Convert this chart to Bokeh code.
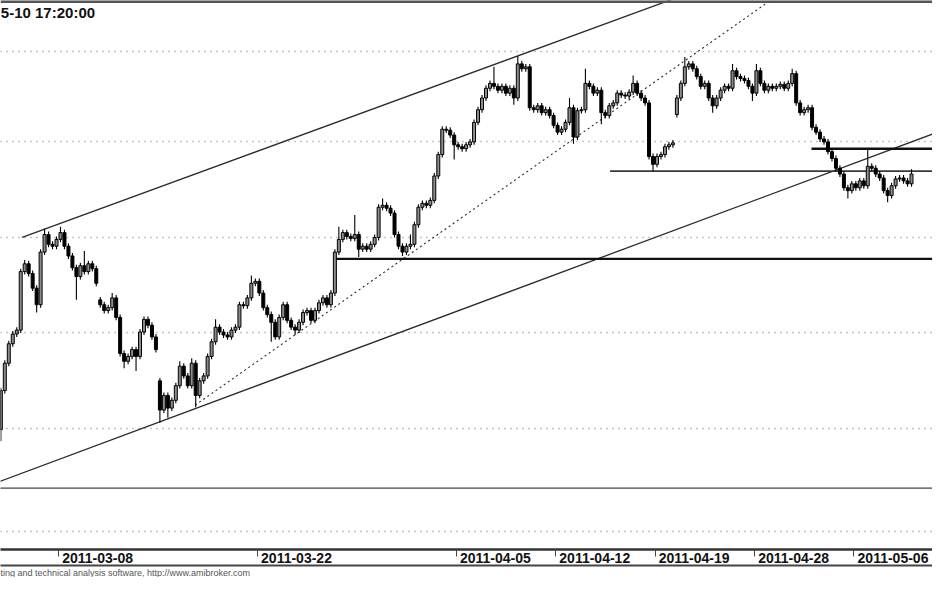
from bokeh.plotting import figure
from bokeh.models import FixedTicker, LinearAxis, Grid, Span, Label, Title, ColumnDataSource
from bokeh.embed import file_html
from bokeh.resources import INLINE

# ---------------- data ----------------
trading_days = [
    "2011-03-03", "2011-03-04", "2011-03-07", "2011-03-08", "2011-03-09", "2011-03-10",
    "2011-03-11", "2011-03-14", "2011-03-15", "2011-03-16", "2011-03-17", "2011-03-18",
    "2011-03-21", "2011-03-22", "2011-03-23", "2011-03-24", "2011-03-25", "2011-03-28",
    "2011-03-29", "2011-03-30", "2011-03-31", "2011-04-01", "2011-04-04", "2011-04-05",
    "2011-04-06", "2011-04-07", "2011-04-08", "2011-04-11", "2011-04-12", "2011-04-13",
    "2011-04-14", "2011-04-15", "2011-04-18", "2011-04-19", "2011-04-20", "2011-04-21",
    "2011-04-26", "2011-04-27", "2011-04-28", "2011-04-29", "2011-05-02", "2011-05-04",
    "2011-05-05", "2011-05-06", "2011-05-09", "2011-05-10",
]
tick_dates = ["2011-03-08", "2011-03-22", "2011-04-05", "2011-04-12",
              "2011-04-19", "2011-04-28", "2011-05-06"]
bars_per_day = 5

closes = [
    2726, 2740, 2750, 2755, 2757,          # 03-03
    2787, 2791, 2786, 2778.5, 2770,        # 03-04
    2797, 2806, 2801, 2800, 2803.5,        # 03-07
    2807, 2800, 2795, 2789, 2784.5,        # 03-08
    2790, 2787, 2791, 2788.5, 2781,        # 03-09
    2770, 2767, 2768.5, 2773.5, 2763.5,    # 03-10
    2745, 2741, 2743.5, 2747, 2743.5,      # 03-11
    2756, 2762.5, 2759.5, 2753.5, 2747,    # 03-14
    2716, 2723.5, 2717, 2721, 2728.5,      # 03-15
    2738.5, 2733.5, 2728.5, 2740, 2723.5,  # 03-16
    2731, 2733.5, 2743.5, 2751, 2758.5,    # 03-17
    2756, 2754.5, 2753.5, 2757, 2758.5,    # 03-18
    2770, 2769.5, 2773.5, 2781, 2782,      # 03-21
    2776, 2768.5, 2765, 2761, 2753.5,      # 03-22
    2763.5, 2770, 2762, 2758.5, 2757,      # 03-23
    2761, 2766, 2767, 2762, 2767,          # 03-24
    2771, 2773.5, 2770, 2776, 2797,        # 03-25
    2803.5, 2807, 2805, 2804, 2806,        # 03-28
    2798.5, 2800, 2798.5, 2801, 2804.5,    # 03-29
    2820, 2821, 2819.5, 2817, 2806,        # 03-30
    2800, 2797, 2800, 2801, 2811,          # 03-31
    2820, 2822, 2821, 2823.5, 2836,        # 04-01
    2847, 2860, 2859.5, 2857, 2852,        # 04-04
    2851, 2850, 2852, 2853.5, 2863.5,      # 04-05
    2870, 2876, 2881, 2883.5, 2882,        # 04-06
    2880, 2882, 2878.5, 2881, 2876,        # 04-07
    2893.5, 2891, 2892, 2871, 2870,        # 04-08
    2872, 2868.5, 2870, 2867, 2862,        # 04-11
    2858.5, 2860, 2863.5, 2871, 2856,      # 04-12
    2869.5, 2870, 2883.5, 2882, 2878.5,    # 04-13
    2880, 2868.5, 2867, 2872, 2873.5,      # 04-14
    2878.5, 2877.5, 2877, 2879, 2883.5,    # 04-15
    2878.5, 2876, 2873.5, 2846, 2842,      # 04-18
    2846, 2847, 2851, 2852, 2853,          # 04-19
    2876, 2883.5, 2892, 2893.5, 2891,      # 04-20
    2887, 2882, 2883.5, 2876, 2872,        # 04-21
    2876, 2880, 2882, 2881, 2890,          # 04-26
    2887, 2886, 2885, 2882, 2878.5,        # 04-27
    2890, 2883.5, 2880, 2882, 2881,        # 04-28
    2882, 2883, 2881, 2883.5, 2888.5,      # 04-29
    2873.5, 2868.5, 2870, 2871, 2861,      # 05-02
    2858.5, 2855, 2853.5, 2848.5, 2845,    # 05-04
    2840, 2837, 2830, 2828.5, 2832,        # 05-05
    2830, 2833.5, 2831, 2841, 2840,        # 05-06
    2837, 2835, 2828.5, 2826, 2831,        # 05-09
    2834.5, 2835, 2833.5, 2832, 2837,      # 05-10
]
# opening gaps (bar index -> open); other bars open at the previous close
gap_opens = {0: 2706, 25: 2772.5, 40: 2731, 170: 2867.5}
# visible wick extremes (bar index -> price)
high_spikes = {6: 2793, 11: 2809, 15: 2810, 21: 2797.5, 28: 2776, 30: 2756, 36: 2764,
               45: 2741, 48: 2742.5, 54: 2762.5, 63: 2785, 85: 2810, 89: 2816,
               96: 2824.5, 103: 2806, 124: 2892, 130: 2897.5, 143: 2876, 147: 2891,
               159: 2887.5, 172: 2897, 184: 2893.5, 190: 2893.5, 199: 2891,
               218: 2849.5, 229: 2839.5}
low_spikes = {0: 2700, 9: 2766, 19: 2772.5, 24: 2779.5, 31: 2737.5, 34: 2736,
              40: 2709.5, 42: 2712, 49: 2717.5, 68: 2751, 74: 2754.5, 90: 2794.5,
              101: 2795, 114: 2844.5, 129: 2872.5, 144: 2852.5, 151: 2862.5,
              164: 2838.5, 179: 2868.5, 189: 2874.5, 213: 2824.5, 223: 2822.5}
wick = 1.5

# drawn studies: (x0 day-index, y0, x1, y1)
upper_channel = (1.171, 2804.5, 36.0, 2934.6)
lower_channel = (-0.906, 2675.75, 47.55, 2859.75)
dotted_trend = (9.873, 2718.5, 39.5, 2931.0)
h_levels = [2793.5, 2838.5, 2850.0, 2676.0]
h_starts = [16.894, 30.74, 40.87, -1.0]
grid_prices = [2653.5, 2706.5, 2756, 2804.5, 2853.5, 2900]

# ---------------- build OHLC ----------------
n = len(closes)
opens = [gap_opens.get(0, closes[0])] + closes[:-1]
for k, v in gap_opens.items():
    opens[k] = v
xs, tops, bottoms, highs, lows, fills = [], [], [], [], [], []
for i in range(n):
    day = i // bars_per_day
    j = i % bars_per_day
    xs.append(day + (j + 0.5) / bars_per_day)
    o, c = opens[i], closes[i]
    hi = max(o, c) + wick
    lo = min(o, c) - wick
    if i in high_spikes:
        hi = max(hi, high_spikes[i])
    if i in low_spikes:
        lo = min(lo, low_spikes[i])
    highs.append(hi)
    lows.append(lo)
    tops.append(max(o, c))
    bottoms.append(min(o, c) if abs(o - c) > 0.3 else max(o, c) - 0.4)
    fills.append("#8c8c8c" if c > o else "black")

src = ColumnDataSource(dict(x=xs, top=tops, bottom=bottoms, high=highs, low=lows, fill=fills))

# ---------------- figure ----------------
p = figure(width=932, height=577, x_range=(0.083, 46.956), y_range=(2644.5, 2926),
           output_backend="svg", toolbar_location=None, y_axis_location=None,
           min_border_left=0, min_border_right=0, min_border_top=0, min_border_bottom=0)
p.outline_line_color = None
p.background_fill_color = "white"
p.border_fill_color = "white"
p.xgrid.visible = False
p.ygrid.visible = False

grid = Grid(dimension=1, ticker=FixedTicker(ticks=grid_prices),
            grid_line_color="#8a8a8a", grid_line_dash="1 5", grid_line_width=1.3)
p.add_layout(grid, "center")

# top border
p.add_layout(Span(location=2926, dimension="width", line_color="#555555", line_width=5))

# trend lines
for (x0, y0, x1, y1), dash, w in [(upper_channel, "solid", 1.3), (lower_channel, "solid", 1.3),
                                  (dotted_trend, "2 3", 1.1)]:
    p.segment(x0=[x0], y0=[y0], x1=[x1], y1=[y1], line_color="#2a2a2a",
              line_width=w, line_dash=dash)
h_widths = [2.4, 1.6, 2.4, 1.3]
h_colors = ["#111111", "#3a3a3a", "#111111", "#444444"]
for lvl, st, w, col in zip(h_levels, h_starts, h_widths, h_colors):
    p.segment(x0=[st], y0=[lvl], x1=[48], y1=[lvl], line_color=col, line_width=w)

# candles
p.segment(x0="x", y0="high", x1="x", y1="low", source=src, line_color="black", line_width=1.1)
p.vbar(x="x", width=0.15, top="top", bottom="bottom", source=src,
       fill_color="fill", line_color="black", line_width=1)

# title text
p.add_layout(Label(x=0.1, y=2920, text="5-10 17:20:00", text_font="Liberation Sans",
                   text_font_size="15px", text_font_style="bold", text_color="#111111",
                   text_baseline="middle", text_align="left"))

# x axis: tick marks at day starts (minor), labels to the right of them (major)
tick_pos = [trading_days.index(d) for d in tick_dates]
label_shift = 1.97
label_pos = [t + label_shift for t in tick_pos]
xax = p.xaxis[0]
xax.ticker = FixedTicker(ticks=label_pos, minor_ticks=tick_pos)
xax.major_label_overrides = {lp: d for lp, d in zip(label_pos, tick_dates)}
xax.axis_line_width = 2.5
xax.axis_line_color = "#333333"
xax.major_tick_in = 0
xax.major_tick_out = 0
xax.minor_tick_in = 0
xax.minor_tick_out = 7
xax.minor_tick_line_color = "#444444"
xax.minor_tick_line_width = 1
xax.major_label_text_font = "Liberation Sans"
xax.major_label_text_font_size = "14px"
xax.major_label_text_font_style = "bold"
xax.major_label_text_color = "#111111"
xax.major_label_standoff = -4

ax2 = LinearAxis(ticker=FixedTicker(ticks=[]), axis_line_color="#444444", axis_line_width=2,
                 major_tick_out=0, major_tick_in=0, minor_tick_out=0, minor_tick_in=0,
                 major_label_text_font_size="0px")
p.add_layout(ax2, "below")

p.add_layout(Title(text="ting and technical analysis software, http://www.amibroker.com",
                   align="left", text_font="Liberation Sans", text_font_size="9px",
                   text_font_style="normal", text_color="#555555", offset=0, standoff=0),
             "below")

open("out.html", "w").write(file_html(p, INLINE))
